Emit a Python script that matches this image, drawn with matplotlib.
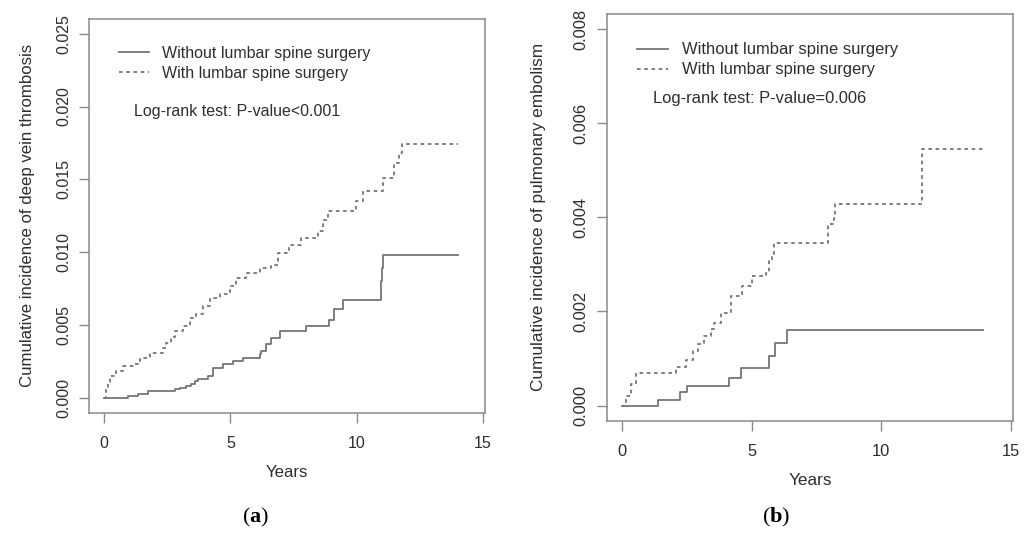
import matplotlib
matplotlib.use("Agg")
import matplotlib.pyplot as plt
import numpy as np

plt.rcParams['font.family'] = ['Liberation Sans', 'DejaVu Sans']
plt.rcParams['mathtext.fontset'] = 'custom'
plt.rcParams['mathtext.rm'] = 'Liberation Serif'
plt.rcParams['mathtext.bf'] = 'Liberation Serif:bold'

# (a) deep vein thrombosis, step points (years, cumulative incidence x 1000)
dvt_without_t = [0, 0.96, 1.35, 1.75, 2.80, 3.0, 3.26, 3.46, 3.6, 3.72, 4.12, 4.32, 4.71,
                 5.1, 5.5, 6.16, 6.23, 6.42, 6.62, 6.95, 8.0, 8.92, 9.12, 9.45, 10.98,
                 11.02, 11.06, 14.0]
dvt_without_v = [0, 0.16, 0.27, 0.5, 0.6, 0.66, 0.84, 1.0, 1.15, 1.30, 1.53, 2.1, 2.32,
                 2.55, 2.78, 3.0, 3.23, 3.69, 4.14, 4.6, 4.98, 5.39, 6.08, 6.76, 8.0,
                 8.9, 9.84, 9.84]
dvt_with_t = [0, 0.08, 0.16, 0.24, 0.49, 0.75, 1.15, 1.42, 1.82, 2.34, 2.47, 2.65, 2.80,
              3.13, 3.40, 3.66, 3.92, 4.19, 4.58, 4.98, 5.24, 5.63, 6.16, 6.62, 6.88,
              7.34, 7.80, 8.46, 8.66, 8.86, 9.97, 10.23, 11.03, 11.49, 11.68, 11.79, 14.0]
dvt_with_v = [0, 0.6, 1.1, 1.52, 1.87, 2.21, 2.32, 2.78, 3.12, 3.46, 3.80, 4.2, 4.6,
              4.94, 5.51, 5.74, 6.31, 6.88, 7.11, 7.68, 8.25, 8.59, 8.93, 9.16, 9.96,
              10.53, 10.99, 11.44, 12.24, 12.81, 13.49, 14.18, 15.09, 16.1, 16.78, 17.46, 17.46]

# (b) pulmonary embolism
pe_without_t = [0, 1.38, 2.25, 2.53, 4.13, 4.6, 5.67, 5.89, 6.37, 13.93]
pe_without_v = [0, 0.12, 0.28, 0.41, 0.59, 0.80, 1.05, 1.33, 1.60, 1.60]
pe_with_t = [0, 0.17, 0.36, 0.55, 2.09, 2.47, 2.73, 2.92, 3.18, 3.43, 3.56, 3.82, 4.2,
             4.65, 5.03, 5.54, 5.67, 5.80, 5.86, 7.95, 8.17, 8.21, 11.56, 13.93]
pe_with_v = [0, 0.2, 0.45, 0.69, 0.82, 0.98, 1.16, 1.30, 1.48, 1.62, 1.76, 1.97, 2.33,
             2.54, 2.75, 2.82, 3.07, 3.21, 3.46, 3.85, 3.99, 4.28, 5.46, 5.46]

line_col = '#757575'
text_col = '#2e2e2e'
box_col = '#8a8a8a'

fig = plt.figure(figsize=(10.27, 5.33), dpi=100)
ax1 = fig.add_axes([0.0870, 0.2257, 0.3853, 0.7386])
ax2 = fig.add_axes([0.5907, 0.2107, 0.3959, 0.7630])


def panel(ax, t0, v0, t1, v1, ymax, yticks, ylabel, ptext, fs, lfs, leg_y, txt_y, ylab_x, xlab_y):
    l0, = ax.plot(t0, np.array(v0) / 1000, drawstyle='steps-post', color=line_col, lw=1.3)
    l1, = ax.plot(t1, np.array(v1) / 1000, drawstyle='steps-post', color=line_col, lw=1.3,
                  linestyle=(0, (2, 2)))
    ax.set_xlim(-0.58, 15.08)
    ax.set_ylim(-0.04 * ymax, 1.04 * ymax)
    ax.set_xticks([0, 5, 10, 15])
    ax.set_yticks(yticks)
    ax.set_yticklabels(['%.3f' % y for y in yticks], rotation=90, va='center')
    ax.tick_params(direction='out', length=7, width=1, color=box_col, labelsize=fs,
                   labelcolor=text_col)
    ax.tick_params(axis='x', pad=10)
    ax.tick_params(axis='y', pad=6)
    for s in ax.spines.values():
        s.set_color(box_col)
        s.set_linewidth(1.1)
    ax.set_xlabel('Years', fontsize=lfs, color=text_col)
    ax.set_ylabel(ylabel, fontsize=lfs, color=text_col)
    ax.yaxis.set_label_coords(ylab_x, 0.5)
    ax.xaxis.set_label_coords(0.5, xlab_y)
    ax.legend([l0, l1], ['Without lumbar spine surgery', 'With lumbar spine surgery'],
              loc='upper left', bbox_to_anchor=(0.075, leg_y), frameon=False,
              fontsize=fs, handlelength=1.85, handletextpad=0.85, borderpad=0,
              borderaxespad=0, labelspacing=0.3, labelcolor=text_col)
    ax.text(0.113, txt_y, ptext, transform=ax.transAxes, fontsize=fs, color=text_col,
            va='center', ha='left')


panel(ax1, dvt_without_t, dvt_without_v, dvt_with_t, dvt_with_v, 0.025,
      [0, 0.005, 0.010, 0.015, 0.020, 0.025],
      'Cumulative incidence of deep vein thrombosis', 'Log-rank test: P-value<0.001',
      11.5, 12.1, 0.932, 0.764, -0.137, -0.134)
panel(ax2, pe_without_t, pe_without_v, pe_with_t, pe_with_v, 0.008,
      [0, 0.002, 0.004, 0.006, 0.008],
      'Cumulative incidence of pulmonary embolism', 'Log-rank test: P-value=0.006',
      11.9, 12.4, 0.930, 0.793, -0.149, -0.129)

fig.text(255.5 / 1027, 1 - 517 / 533, r'($\mathbf{a}$)', fontsize=16, ha='center',
         va='center', family='Liberation Serif')
fig.text(775.7 / 1027, 1 - 517 / 533, r'($\mathbf{b}$)', fontsize=16, ha='center',
         va='center', family='Liberation Serif')

fig.savefig('out.png', dpi=100)
